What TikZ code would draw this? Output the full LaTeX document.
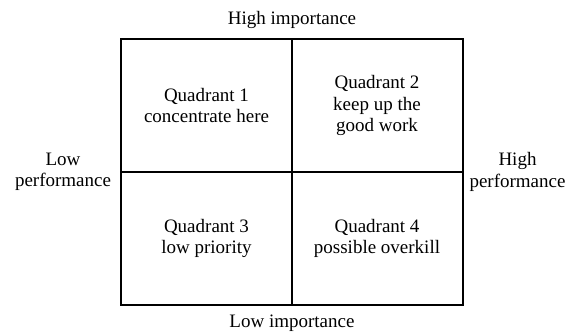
\documentclass[tikz,border=0pt]{standalone}
\usepackage{fontspec}
\setmainfont{Liberation Serif}
\usetikzlibrary{positioning}
\begin{document}
\begin{tikzpicture}[x=1pt,y=-1pt,
    font=\fontsize{19}{21.5}\selectfont,
    cell/.style={draw, line width=2pt, minimum width=171pt, minimum height=133pt,
        align=center, inner sep=0pt},
    axislabel/.style={align=center, inner sep=0pt}]
\useasboundingbox (0,0) rectangle (575,333);

% the four quadrants
\node[cell] (q1) at (206.5,105.5) {Quadrant 1\\concentrate here};
\node[cell] (q2) at (377,105.5) {Quadrant 2\\keep up the\\good work};
\node[cell] (q3) at (206.5,238.5) {Quadrant 3\\low priority};
\node[cell] (q4) at (377,238.5) {Quadrant 4\\possible overkill};

% axis labels
\node[axislabel] (hiimp) at (292,20) {High importance};
\node[axislabel] (loimp) at (292,323) {Low importance};
\node[axislabel] (loperf) at (63,172) {Low\\performance};
\node[axislabel] (hiperf) at (517.5,172) {High\\performance};
\end{tikzpicture}
\end{document}
